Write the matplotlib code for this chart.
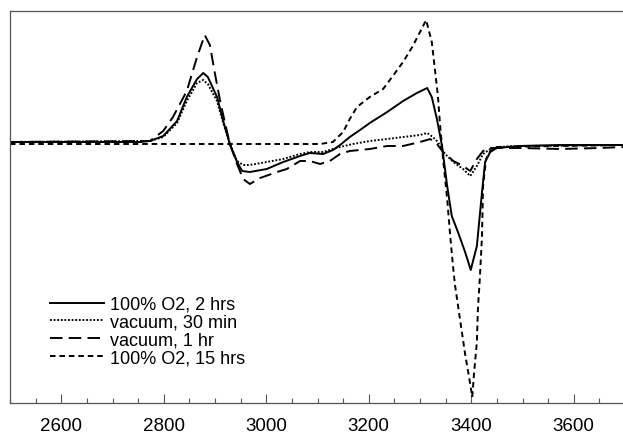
import matplotlib
matplotlib.use("Agg")
import matplotlib.pyplot as plt
from matplotlib.ticker import MultipleLocator

plt.rcParams['font.family'] = ['Liberation Sans', 'DejaVu Sans']
plt.rcParams['lines.scale_dashes'] = False

# Field (G) and signal (arbitrary units)
x_o2_2h = [2500, 2600, 2700, 2754, 2773, 2799, 2826, 2845, 2865, 2877, 2886, 2904, 2916, 2929,
           2943, 2953, 2968, 3001, 3033, 3066, 3085, 3111, 3130, 3144, 3163, 3183, 3202, 3236,
           3267, 3294, 3314, 3323, 3333, 3343, 3353, 3362, 3374, 3388, 3399, 3411, 3421, 3427,
           3437, 3450, 3495, 3573, 3696]
y_o2_2h = [2, 2, 2, 2, 3, 8, 23, 47, 65, 71, 67, 47, 23, 0,
           -18, -27, -28, -25, -18, -12, -9, -10, -6, -1, 7, 14, 21, 32,
           43, 51, 56, 47, 25, -2, -42, -72, -88, -108, -126, -102, -48, -18,
           -8, -4, -2, -1, -1]

x_vac_30 = [2500, 2773, 2799, 2826, 2845, 2865, 2877, 2886, 2904, 2916, 2929, 2943, 2955, 2968,
            3001, 3033, 3066, 3085, 3111, 3130, 3144, 3169, 3202, 3236, 3267, 3300, 3314, 3325,
            3335, 3345, 3365, 3384, 3398, 3411, 3423, 3437, 3450, 3495, 3696]
y_vac_30 = [2, 3, 7, 21, 43, 61, 64, 60, 43, 21, 0, -17, -21, -21,
            -18, -15, -10, -8, -8, -5, -3, 0, 3, 5, 7, 9, 11, 7,
            2, -8, -18, -25, -32, -22, -10, -5, -3, -2, -1]

x_vac_1h = [2500, 2773, 2799, 2818, 2845, 2865, 2880, 2890, 2900, 2910, 2920, 2929, 2943, 2955,
            2968, 2988, 3021, 3040, 3066, 3085, 3105, 3124, 3144, 3163, 3202, 3236, 3267, 3300,
            3320, 3333, 3345, 3365, 3384, 3398, 3411, 3423, 3437, 3495, 3573, 3651, 3696]
y_vac_1h = [2, 3, 13, 27, 53, 87, 109, 99, 70, 43, 20, 0, -20, -35,
            -40, -34, -28, -25, -17, -17, -20, -17, -10, -7, -5, -2, -2, 2,
            5, 0, -8, -17, -22, -27, -15, -7, -4, -4, -5, -4, -3]

x_o2_15h = [2500, 3105, 3130, 3150, 3163, 3177, 3202, 3228, 3247, 3267, 3286, 3300, 3312, 3323,
            3329, 3335, 3339, 3345, 3353, 3359, 3364, 3368, 3378, 3388, 3398, 3402, 3405, 3411,
            3413, 3417, 3421, 3423, 3429, 3437, 3450, 3696]
y_o2_15h = [0, 0, 2, 12, 25, 37, 47, 55, 68, 82, 98, 112, 124, 102,
            75, 48, 20, -15, -55, -92, -120, -140, -175, -210, -240, -253, -232, -198,
            -165, -132, -92, -42, -15, -7, -3, -1]

labels = ["100% O2, 2 hrs", "vacuum, 30 min", "vacuum, 1 hr", "100% O2, 15 hrs"]
xticks = [2600, 2800, 3000, 3200, 3400, 3600]

fig = plt.figure(figsize=(6.23, 4.35), dpi=100)
ax = fig.add_axes([10/623, 31/435, 615/623, 392/435])

lw = 1.4
ax.plot(x_o2_2h, y_o2_2h, color='black', lw=lw, linestyle='-', label=labels[0])
ax.plot(x_vac_30, y_vac_30, color='black', lw=lw, linestyle=(0, (1.3, 1.3)), label=labels[1])
ax.plot(x_vac_1h, y_vac_1h, color='black', lw=lw, linestyle=(0, (9, 4.5)), label=labels[2])
ax.plot(x_o2_15h, y_o2_15h, color='black', lw=lw, linestyle=(0, (4, 2.8)), label=labels[3])

ax.set_xlim(2500, 3700)
ax.set_ylim(-259, 133)
ax.set_xticks(xticks)
ax.set_xticklabels([str(t) for t in xticks])
ax.xaxis.set_minor_locator(MultipleLocator(50))
ax.set_yticks([])
ax.tick_params(axis='x', which='major', direction='in', length=6.5, width=0.8,
               color='#555555', labelsize=13.5, pad=10)
ax.tick_params(axis='x', which='minor', direction='in', length=3.6, width=0.8, color='#555555')
for s in ['left', 'top', 'bottom']:
    ax.spines[s].set_color('#555555')
    ax.spines[s].set_linewidth(0.9)
ax.spines['right'].set_visible(False)

ax.legend(loc='lower left', bbox_to_anchor=(0.065, 0.093), frameon=False, fontsize=13,
          handlelength=3.0, handletextpad=0.35, labelspacing=0.05, borderpad=0, borderaxespad=0)

fig.savefig("out.png", dpi=100)
